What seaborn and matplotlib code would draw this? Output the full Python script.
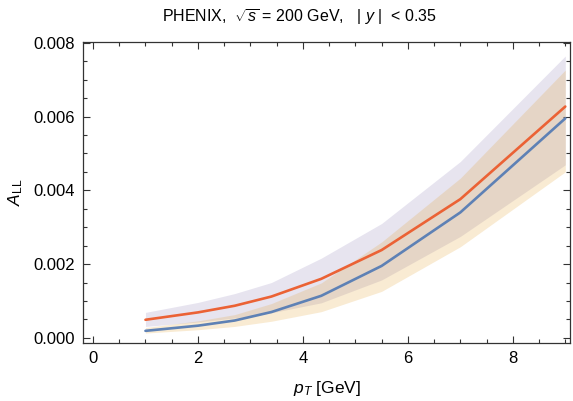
import matplotlib
matplotlib.use("Agg")
import matplotlib.pyplot as plt
import numpy as np
import pandas as pd
import seaborn as sns
from matplotlib.ticker import MultipleLocator, FormatStrFormatter

sns.set_theme(style="ticks")
plt.rcParams["font.family"] = ["Liberation Sans", "DejaVu Sans"]
plt.rcParams["mathtext.fontset"] = "custom"
plt.rcParams["mathtext.rm"] = "Liberation Sans"
plt.rcParams["mathtext.it"] = "Liberation Sans:italic"
plt.rcParams["text.color"] = "black"
plt.rcParams["axes.labelcolor"] = "black"

# pT grid and curves
pt = [1.0, 2.0, 2.7, 3.4, 4.35, 5.5, 7.0, 9.0]

all_orange = [0.00049, 0.00069, 0.00087, 0.00112, 0.00160, 0.00238, 0.00376, 0.00627]
all_orange_hi = [0.00069, 0.00096, 0.00120, 0.00150, 0.00216, 0.00310, 0.00478, 0.00764]
all_orange_lo = [0.00031, 0.00043, 0.00054, 0.00068, 0.00095, 0.00157, 0.00275, 0.00469]

all_blue = [0.00019, 0.00033, 0.00047, 0.00070, 0.00114, 0.00195, 0.00340, 0.00595]
all_blue_hi = [0.00028, 0.00046, 0.00063, 0.00093, 0.00149, 0.00260, 0.00433, 0.00726]
all_blue_lo = [0.00013, 0.00022, 0.00031, 0.00045, 0.00071, 0.00126, 0.00247, 0.00450]

_orange = "#EB6235"
_blue = "#5E81B5"
_purple_band = "#8778B3"
_yellow_band = "#E19C24"

df = pd.DataFrame({
    "pt": pt * 2,
    "all": all_orange + all_blue,
    "set": ["a"] * len(pt) + ["b"] * len(pt),
})

fig = plt.figure(figsize=(5.73, 4.01), dpi=100)
ax = fig.add_axes([0.1449, 0.1446, 0.9948 - 0.1449, 0.8953 - 0.1446])

ax.fill_between(pt, all_orange_lo, all_orange_hi, color=_purple_band, alpha=0.2, lw=0)
ax.fill_between(pt, all_blue_lo, all_blue_hi, color=_yellow_band, alpha=0.2, lw=0)
sns.lineplot(data=df, x="pt", y="all", hue="set", palette={"a": _orange, "b": _blue},
             linewidth=1.9, legend=False, ax=ax)

ax.set_xlim(-0.19, 9.09)
ax.set_ylim(-0.00014, 0.00802)
ax.xaxis.set_major_locator(MultipleLocator(2))
ax.xaxis.set_minor_locator(MultipleLocator(0.5))
ax.yaxis.set_major_locator(MultipleLocator(0.002))
ax.yaxis.set_minor_locator(MultipleLocator(0.0005))
ax.yaxis.set_major_formatter(FormatStrFormatter("%.3f"))

ax.tick_params(which="both", direction="in", top=True, right=True, colors="#333333",
               labelcolor="black", labelsize=12, width=0.8)
ax.tick_params(which="major", length=5, pad=6)
ax.tick_params(which="minor", length=3)
for s in ax.spines.values():
    s.set_color("#333333")
    s.set_linewidth(0.9)

ax.set_xlabel("$p_T$ [GeV]", fontsize=12.5, labelpad=9)
ax.set_ylabel(r"$A_{\rm LL}$", fontsize=12.5, labelpad=6)
fig.text(300 / 573, 1 - 17 / 401, r"PHENIX,  $\sqrt{s}$ = 200 GeV,   | $y$ |  < 0.35",
         fontsize=11.5, ha="center", va="center", color="black")

fig.savefig("out.png", dpi=100)
